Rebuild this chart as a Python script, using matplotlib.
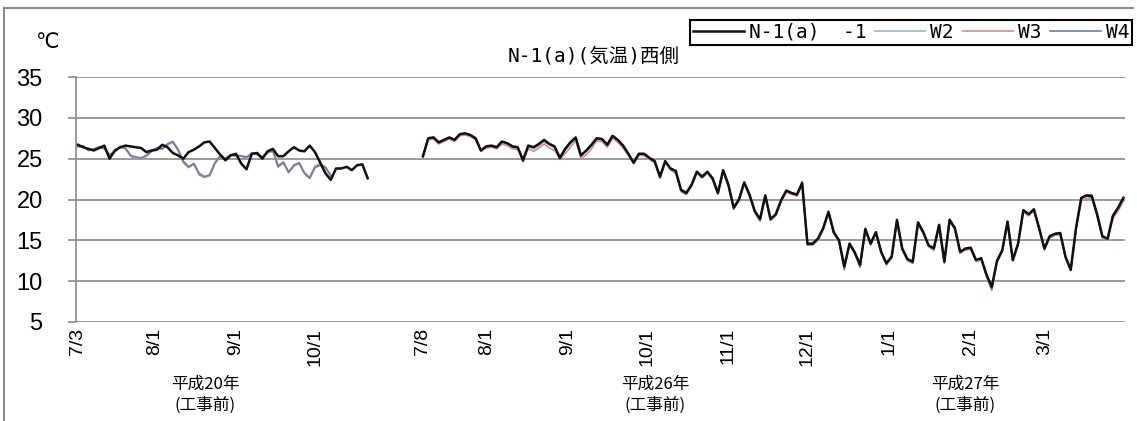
import numpy as np
import pandas as pd
import matplotlib
matplotlib.use('Agg')
import matplotlib.pyplot as plt
from matplotlib.lines import Line2D

# 平成20年 (2日おき)
dates_h20 = pd.date_range('2008-07-03', '2008-10-21', freq='2D')
n1_h20 = [26.7, 26.4, 26.2, 26.0, 26.3, 26.6, 25.0, 26.0, 26.4, 26.6,
          26.5, 26.4, 26.3, 25.8, 26.0, 26.1, 26.7, 26.4, 25.7, 25.4,
          25.0, 25.8, 26.1, 26.5, 27.0, 27.1, 26.3, 25.5, 24.8, 25.4,
          25.6, 24.4, 23.7, 25.6, 25.7, 25.0, 25.9, 26.2, 25.3, 25.3,
          25.9, 26.4, 26.0, 25.9, 26.6, 25.8, 24.5, 23.2, 22.4, 23.8,
          23.8, 24.0, 23.6, 24.2, 24.3, 22.6]
w2_h20 = [26.5, 26.6, 26.0, 26.2, 26.4, 26.3, 25.4, 25.9, 26.5, 26.3,
          25.4, 25.1, 25.0, 25.4, 26.0, 26.3, 26.2, 26.8, 27.1, 26.2,
          24.6, 24.0, 24.4, 23.2, 22.8, 23.0, 24.5, 25.3, 25.0, 25.5,
          25.4, 25.4, 25.2, 25.7, 25.6, 25.2, 25.8, 26.0, 24.0, 24.6,
          23.3, 24.2, 24.5, 23.2, 22.6, 24.0, 24.2, 23.9, 22.9]
w3_h20 = [26.4, 26.5, 26.1, 26.1, 26.5, 26.2, 25.3, 25.8, 26.4, 26.2,
          25.3, 25.0, 25.0, 25.3, 25.9, 26.2, 26.3, 26.7, 27.0, 26.0,
          24.5, 23.9, 24.3, 23.0, 22.7, 22.9, 24.4, 25.2, 25.1, 25.5,
          25.3, 25.3, 25.1, 25.6, 25.5, 25.1, 25.7, 25.9, 24.2, 24.6,
          23.4, 24.1, 24.4, 23.3, 22.7, 24.1, 24.4, 24.0, 23.0]
w4_h20 = [26.6, 26.5, 26.0, 26.2, 26.3, 26.3, 25.5, 25.9, 26.4, 26.3,
          25.4, 25.2, 25.1, 25.4, 25.9, 26.3, 26.2, 26.8, 27.1, 26.1,
          24.7, 24.0, 24.4, 23.2, 22.8, 23.0, 24.5, 25.3, 25.0, 25.4,
          25.4, 25.3, 25.2, 25.6, 25.6, 25.2, 25.8, 26.0, 24.0, 24.5,
          23.3, 24.2, 24.5, 23.2, 22.6, 23.9, 24.2, 23.9, 22.9]

# 平成26-27年 (2日おき)
dates_h26 = pd.date_range('2014-07-08', '2015-03-31', freq='2D')
n1_h26 = [25.3, 27.5, 27.6, 27.0, 27.3, 27.6, 27.3, 28.0, 28.1, 27.9,
          27.5, 26.0, 26.5, 26.6, 26.4, 27.1, 26.9, 26.5, 26.4, 24.8,
          26.6, 26.4, 26.8, 27.3, 26.8, 26.5, 25.1, 26.2, 27.0, 27.6,
          25.4, 26.0, 26.7, 27.5, 27.4, 26.7, 27.8, 27.3, 26.6, 25.6,
          24.5, 25.6, 25.6, 25.1, 24.7, 22.8, 24.7, 23.8, 23.5, 21.2,
          20.8, 21.8, 23.4, 22.8, 23.4, 22.6, 20.8, 23.6, 21.8, 19.0,
          20.0, 22.1, 20.6, 18.6, 17.6, 20.5, 17.6, 18.2, 19.9, 21.1,
          20.8, 20.6, 22.0, 14.6, 14.6, 15.2, 16.5, 18.5, 16.0, 15.0,
          11.8, 14.6, 13.5, 12.0, 16.4, 14.6, 16.0, 13.6, 12.2, 13.0,
          17.5, 14.0, 12.7, 12.4, 17.2, 16.0, 14.4, 14.0, 16.9, 12.4,
          17.5, 16.5, 13.6, 14.0, 14.1, 12.6, 12.8, 10.8, 9.3, 12.5,
          13.8, 17.3, 12.6, 14.6, 18.7, 18.2, 18.8, 16.5, 14.0, 15.5,
          15.8, 15.9, 13.0, 11.4, 16.5, 20.2, 20.5, 20.4, 18.2, 15.5,
          15.2, 18.0, 19.0, 20.2]
w2_h26 = [25.2, 27.4, 27.5, 27.0, 27.2, 27.5, 27.3, 27.9, 28.0, 27.8,
          27.4, 26.0, 26.4, 26.5, 26.4, 27.0, 26.8, 26.4, 26.3, 24.9,
          26.5, 26.2, 26.6, 27.1, 26.7, 26.3, 25.2, 26.0, 26.8, 27.5,
          25.5, 25.9, 26.5, 27.4, 27.3, 26.6, 27.7, 27.2, 26.5, 25.5,
          24.6, 25.5, 25.5, 25.0, 24.6, 22.7, 24.6, 23.7, 23.4, 21.1,
          20.7, 21.7, 23.3, 22.7, 23.3, 22.5, 20.7, 23.5, 21.7, 18.9,
          19.9, 22.0, 20.5, 18.5, 17.5, 20.4, 17.5, 18.1, 19.8, 21.0,
          20.7, 20.5, 22.1, 14.5, 14.5, 15.1, 16.4, 18.4, 15.9, 14.9,
          11.6, 14.5, 13.4, 11.9, 16.3, 14.5, 15.9, 13.5, 12.1, 12.9,
          17.4, 13.9, 12.6, 12.3, 17.1, 15.9, 14.3, 13.9, 16.8, 12.3,
          17.4, 16.4, 13.5, 13.9, 14.0, 12.5, 12.7, 10.7, 9.1, 12.4,
          13.7, 17.2, 12.5, 14.5, 18.6, 18.1, 18.7, 16.4, 13.9, 15.4,
          15.7, 15.8, 12.9, 11.3, 16.4, 20.1, 20.4, 20.3, 18.1, 15.4,
          15.1, 17.9, 18.9, 20.1]
w3_h26 = [25.2, 27.3, 27.4, 26.8, 27.1, 27.4, 27.1, 27.8, 27.9, 27.7,
          27.3, 25.9, 26.3, 26.4, 26.2, 26.8, 26.6, 26.2, 26.1, 24.9,
          26.2, 25.9, 26.3, 26.8, 26.3, 26.0, 25.0, 25.6, 26.4, 27.2,
          25.0, 25.5, 26.2, 27.2, 27.1, 26.4, 27.5, 27.0, 26.3, 25.4,
          24.7, 25.4, 25.4, 24.9, 24.5, 22.8, 24.5, 23.6, 23.2, 21.0,
          20.6, 21.6, 23.2, 22.6, 23.2, 22.4, 20.6, 23.4, 21.6, 18.9,
          19.8, 21.9, 20.4, 18.4, 17.4, 20.3, 17.5, 18.0, 19.7, 20.9,
          20.6, 20.4, 21.8, 14.5, 14.4, 15.0, 16.3, 18.3, 15.8, 14.8,
          11.8, 14.4, 13.3, 11.9, 16.2, 14.4, 15.8, 13.4, 12.1, 12.8,
          17.3, 13.8, 12.5, 12.2, 17.0, 15.8, 14.2, 13.8, 16.7, 12.3,
          17.3, 16.3, 13.4, 13.8, 13.9, 12.4, 12.6, 10.7, 9.2, 12.3,
          13.6, 17.1, 12.5, 14.4, 18.4, 18.0, 18.6, 16.3, 13.8, 15.3,
          15.6, 15.7, 12.9, 11.4, 16.3, 19.9, 20.1, 20.2, 18.0, 15.3,
          15.0, 17.7, 18.6, 19.8]
w4_h26 = [25.3, 27.5, 27.6, 27.0, 27.3, 27.6, 27.3, 28.0, 28.1, 27.9,
          27.5, 26.0, 26.5, 26.6, 26.4, 27.1, 26.9, 26.5, 26.4, 24.6,
          26.6, 26.4, 26.8, 27.3, 26.8, 26.5, 24.9, 26.2, 27.0, 27.6,
          25.3, 26.0, 26.7, 27.5, 27.4, 26.7, 27.8, 27.3, 26.6, 25.6,
          24.4, 25.6, 25.6, 25.1, 24.7, 22.6, 24.7, 23.8, 23.5, 21.0,
          20.7, 21.8, 23.4, 22.8, 23.4, 22.6, 20.7, 23.6, 21.8, 18.8,
          20.0, 22.1, 20.6, 18.5, 17.4, 20.5, 17.5, 18.2, 19.9, 21.1,
          20.8, 20.6, 22.2, 14.4, 14.5, 15.2, 16.5, 18.5, 16.0, 14.9,
          11.4, 14.6, 13.5, 11.7, 16.4, 14.6, 16.0, 13.6, 12.0, 13.0,
          17.5, 14.0, 12.6, 12.2, 17.2, 16.0, 14.4, 14.0, 16.9, 12.2,
          17.6, 16.5, 13.6, 14.0, 14.1, 12.6, 12.8, 10.6, 8.9, 12.5,
          13.8, 17.3, 12.5, 14.6, 18.7, 18.2, 18.8, 16.5, 14.0, 15.5,
          15.8, 15.9, 12.9, 11.3, 16.5, 20.2, 20.5, 20.6, 18.2, 15.5,
          15.2, 18.0, 19.0, 20.2]

tick_dates = ['2008-07-03', '2008-08-01', '2008-09-01', '2008-10-01',
              '2014-07-08', '2014-08-01', '2014-09-01', '2014-10-01',
              '2014-11-01', '2014-12-01', '2015-01-01', '2015-02-01',
              '2015-03-01']
year_labels = ['平成20年\n(工事前)', '平成26年\n(工事前)', '平成27年\n(工事前)']
series_names = ['N-1(a)  -1', 'W2', 'W3', 'W4']

# 色
c_n1 = '#111111'
c_w2 = '#a3b7c8'
c_w3 = '#d98a8a'
c_w4 = '#6680aa'
grid_c = '#8a8a8a'

W, H = 1137, 421
fig = plt.figure(figsize=(W / 100, H / 100), dpi=100)
fig.patch.set_facecolor('white')
ax = fig.add_axes([76 / W, 1 - 322 / H, (1125 - 76) / W, (322 - 77) / H])

# Excel風の項目軸: 1日1項目、年の間は空白行
cats = list(pd.date_range('2008-07-03', '2008-10-31')) + [None] * 10 + \
    list(pd.date_range('2014-07-08', '2015-03-31'))
pos = {d: i for i, d in enumerate(cats) if d is not None}


def xs(dates):
    return [pos[d] for d in dates]


x20 = xs(dates_h20)
x26 = xs(dates_h26)

ax.plot(x20[:len(w2_h20)], w2_h20, color=c_w2, lw=1.3, zorder=2)
ax.plot(x26, w2_h26, color=c_w2, lw=1.3, zorder=2)
ax.plot(x20[:len(w3_h20)], w3_h20, color=c_w3, lw=1.2, zorder=3)
ax.plot(x26, w3_h26, color=c_w3, lw=1.2, zorder=3)
ax.plot(x20[:len(w4_h20)], w4_h20, color=c_w4, lw=1.2, zorder=4)
ax.plot(x26, w4_h26, color=c_w4, lw=1.2, zorder=4)
ax.plot(x20, n1_h20, color=c_n1, lw=1.8, zorder=5)
ax.plot(x26, n1_h26, color=c_n1, lw=1.8, zorder=5)

ax.set_ylim(5, 35)
ax.set_xlim(-0.75, len(cats) - 1 + 0.6)
ax.set_yticks(range(5, 36, 5))
ax.yaxis.grid(True, color=grid_c, lw=1.2)
ax.set_axisbelow(True)
for s in ['top', 'right', 'bottom']:
    ax.spines[s].set_visible(False)
ax.spines['left'].set_color(grid_c)
ax.spines['left'].set_linewidth(1.2)

num_font = ['Liberation Sans Narrow', 'Liberation Sans']
ax.tick_params(axis='y', length=6, color=grid_c, width=1.2, pad=18)
for lab in ax.get_yticklabels():
    lab.set_family(num_font)
    lab.set_fontsize(17)

tks = [pd.Timestamp(d) for d in tick_dates]
ax.set_xticks([pos[t] for t in tks])
ax.set_xticklabels([f'{t.month}/{t.day}' for t in tks], rotation=90,
                   family=num_font, fontsize=14)
ax.tick_params(axis='x', length=0, pad=4)

# 文字
cjk = ['DejaVu Sans Mono', 'Noto Sans CJK JP']
fig.text(47 / W, 1 - 42 / H, '℃', ha='center', va='center', fontsize=15)
fig.text(680 / W, 1 - 56 / H, 'N-1(a)(気温)西側', ha='right', va='center',
         family=cjk, fontsize=14)

for xc, lab in zip([205, 655, 965], year_labels):
    fig.text(xc / W, 1 - 376 / H, lab, ha='center', va='top',
             family=['Noto Sans CJK JP'], fontsize=12, linespacing=1.3)

# 凡例
handles = [Line2D([], [], color=c_n1, lw=1.8), Line2D([], [], color=c_w2, lw=1.3),
           Line2D([], [], color=c_w3, lw=1.2), Line2D([], [], color=c_w4, lw=1.2)]
leg = fig.legend(handles, series_names, loc='upper right',
                 bbox_to_anchor=(1132 / W, 1 - 20 / H), ncol=4,
                 frameon=True, fancybox=False, edgecolor='black', framealpha=1,
                 handlelength=2.6, handletextpad=0.25, columnspacing=0.45,
                 borderpad=0.15, borderaxespad=0,
                 prop={'family': cjk, 'size': 14})
leg.get_frame().set_linewidth(1.5)

# 外枠
fig.add_artist(Line2D([4 / W, 4 / W], [0, 1 - 8 / H], transform=fig.transFigure,
                      color='#777777', lw=1.2))
fig.add_artist(Line2D([4 / W, 1133 / W], [1 - 8 / H, 1 - 8 / H],
                      transform=fig.transFigure, color='#777777', lw=1.2))

fig.savefig('out.png', dpi=100)
